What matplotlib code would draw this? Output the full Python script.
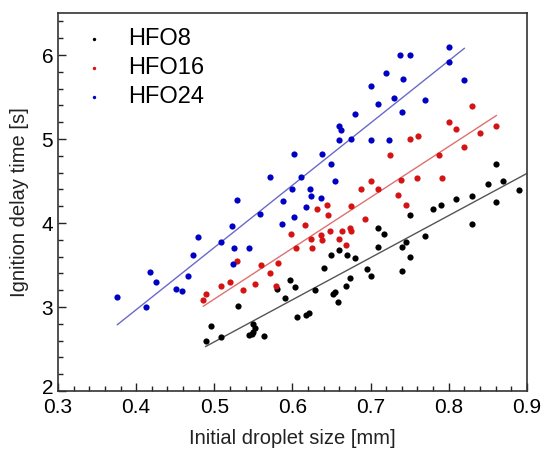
import matplotlib
matplotlib.use("Agg")
import matplotlib.pyplot as plt
import numpy as np
from matplotlib.ticker import MultipleLocator
from matplotlib.transforms import ScaledTranslation

plt.rcParams['font.family'] = ['Liberation Sans', 'DejaVu Sans']

# HFO24 (blue)
x24 = [0.376, 0.412, 0.418, 0.426, 0.451, 0.459, 0.467, 0.473, 0.479, 0.509,
       0.523, 0.525, 0.524, 0.529, 0.545, 0.558, 0.571, 0.587, 0.588, 0.602,
       0.600, 0.602, 0.611, 0.617, 0.623, 0.624, 0.637, 0.638, 0.649, 0.654,
       0.660, 0.662, 0.660, 0.675, 0.680, 0.700, 0.701, 0.710, 0.720, 0.724,
       0.730, 0.738, 0.741, 0.740, 0.750, 0.770, 0.800, 0.800, 0.820]
y24 = [3.125, 3.006, 3.42, 3.30, 3.22, 3.19, 3.37, 3.62, 3.83, 3.77,
       3.96, 3.70, 3.51, 4.27, 3.70, 4.11, 4.55, 3.99, 4.26, 4.82,
       4.40, 4.07, 4.55, 4.19, 4.40, 4.32, 4.30, 4.82, 4.70, 4.50,
       5.16, 5.11, 4.99, 5.00, 5.30, 5.63, 4.99, 5.42, 5.79, 4.99,
       5.49, 6.00, 5.71, 5.32, 6.00, 5.47, 6.10, 5.92, 5.70]

# HFO16 (red)
x16 = [0.485, 0.490, 0.509, 0.520, 0.529, 0.537, 0.552, 0.560, 0.571, 0.579,
       0.581, 0.598, 0.605, 0.616, 0.624, 0.625, 0.632, 0.636, 0.638, 0.644,
       0.646, 0.648, 0.659, 0.664, 0.668, 0.674, 0.675, 0.675, 0.688, 0.693,
       0.700, 0.710, 0.725, 0.735, 0.739, 0.745, 0.751, 0.760, 0.761, 0.788,
       0.792, 0.800, 0.810, 0.820, 0.830, 0.840, 0.860]
y16 = [3.085, 3.16, 3.255, 3.30, 3.55, 3.20, 3.28, 3.50, 3.41, 3.25,
       3.52, 3.87, 3.70, 3.98, 3.81, 3.70, 4.17, 3.86, 3.80, 4.21,
       4.10, 3.91, 3.81, 3.91, 3.74, 3.94, 3.90, 4.20, 4.40, 4.05,
       4.50, 4.40, 4.81, 4.33, 4.51, 4.21, 5.00, 4.54, 5.04, 4.81,
       4.54, 5.20, 5.12, 4.91, 5.39, 5.07, 5.15]

# HFO8 (black)
x8 = [0.489, 0.496, 0.508, 0.531, 0.544, 0.548, 0.549, 0.552, 0.550, 0.564,
      0.580, 0.590, 0.597, 0.603, 0.606, 0.617, 0.621, 0.629, 0.640, 0.650,
      0.652, 0.654, 0.658, 0.660, 0.668, 0.670, 0.674, 0.680, 0.695, 0.700,
      0.710, 0.710, 0.717, 0.740, 0.740, 0.745, 0.750, 0.750, 0.770, 0.780,
      0.790, 0.810, 0.830, 0.830, 0.850, 0.860, 0.860, 0.870, 0.890]
y8 = [2.59, 2.77, 2.64, 3.01, 2.67, 2.68, 2.80, 2.75, 2.70, 2.66,
      3.21, 3.11, 3.32, 3.24, 2.88, 2.90, 2.93, 3.20, 3.47, 3.62,
      3.16, 3.18, 3.06, 3.68, 3.25, 3.62, 3.34, 3.58, 3.45, 3.37,
      3.72, 3.94, 3.87, 3.43, 3.72, 3.77, 3.59, 4.09, 3.84, 4.17,
      4.22, 4.29, 4.32, 3.99, 4.46, 4.70, 4.25, 4.50, 4.39]

# fit line endpoints (x) and values (y)
fit24_x = [0.376, 0.820]
fit24_y = [2.79, 6.08]
fit16_x = [0.486, 0.861]
fit16_y = [3.01, 5.28]
fit8_x = [0.489, 0.900]
fit8_y = [2.53, 4.59]

labels = ['HFO8', 'HFO16', 'HFO24']
xticks = [0.3, 0.4, 0.5, 0.6, 0.7, 0.8, 0.9]
xticklabels = ['0.3', '0.4', '0.5', '0.6', '0.7', '0.8', '0.9']
yticks = [2, 3, 4, 5, 6]
yticklabels = ['2', '3', '4', '5', '6']

fig = plt.figure(figsize=(5.42, 4.51), dpi=100)
ax = fig.add_axes([0.107, 0.133, 0.865, 0.838])

s = 20
h8 = ax.scatter(x8, y8, s=s, color='#000000', lw=0, zorder=3)
h16 = ax.scatter(x16, y16, s=s, color='#d41414', lw=0, zorder=3)
h24 = ax.scatter(x24, y24, s=s, color='#0000c4', lw=0, zorder=3)
ax.plot(fit8_x, fit8_y, color='#555555', lw=1.0, zorder=2)
ax.plot(fit16_x, fit16_y, color='#e07070', lw=1.0, zorder=2)
ax.plot(fit24_x, fit24_y, color='#6a6ac8', lw=1.0, zorder=2)

ax.set_xlim(0.3, 0.9)
ax.set_ylim(2, 6.5)
ax.set_xticks(xticks)
ax.set_xticklabels(xticklabels)
ax.set_yticks(yticks)
ax.set_yticklabels(yticklabels)
ax.xaxis.set_minor_locator(MultipleLocator(0.02))
ax.yaxis.set_minor_locator(MultipleLocator(0.2))
ax.tick_params(which='both', direction='in', top=False, right=False, labelsize=15, color='#222222')
ax.tick_params(which='major', length=6, width=1)
ax.tick_params(which='minor', length=3.5, width=1)
ax.tick_params(axis='x', which='major', pad=5)
for sp in ax.spines.values():
    sp.set_linewidth(1.2)
    sp.set_color('#333333')

# lift the lowest y label slightly so it clears the "0.3" label, as in the reference
lbl = ax.get_yticklabels()[0]
lbl.set_transform(lbl.get_transform() + ScaledTranslation(0, 3 / 72, fig.dpi_scale_trans))

ax.set_xlabel('Initial droplet size [mm]', fontsize=14.5, color='#222222', labelpad=9)
ax.set_ylabel('Ignition delay time [s]', fontsize=14.5, color='#222222', labelpad=9)

leg = ax.legend([h8, h16, h24], labels, loc='upper left', frameon=False, fontsize=17,
                markerscale=0.55, handlelength=1.0, handletextpad=0.95, labelspacing=0.3,
                bbox_to_anchor=(0.007, 1.017))

fig.savefig('out.png', dpi=100)
